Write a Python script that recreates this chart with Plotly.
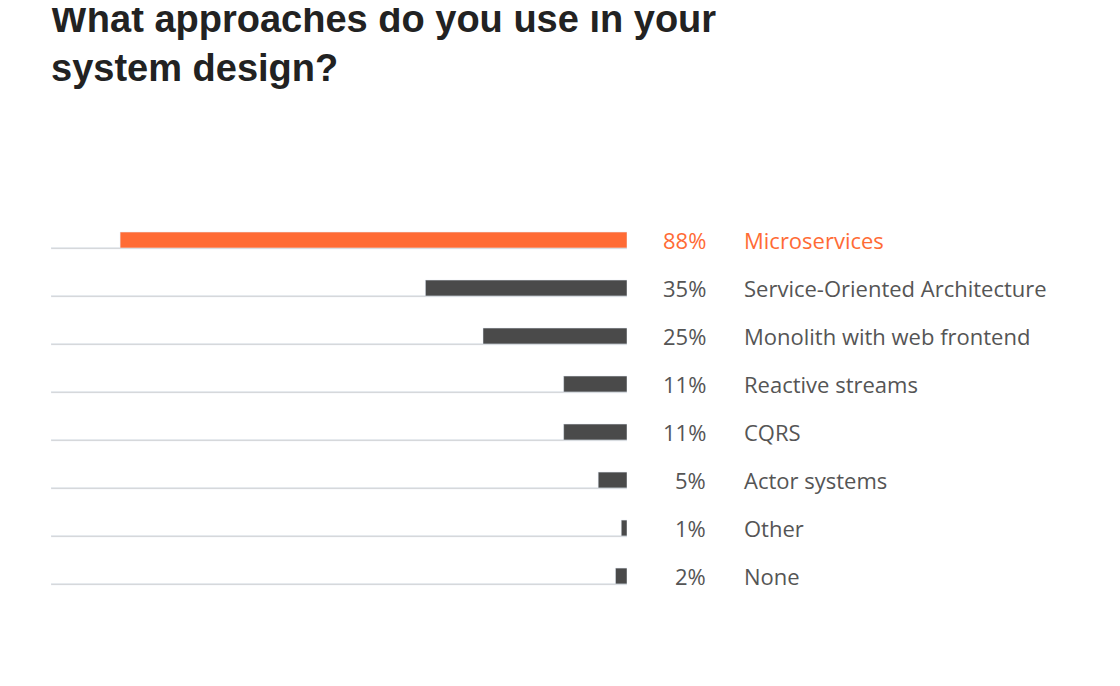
import plotly.graph_objects as go

labels = ['Microservices', 'Service-Oriented Architecture', 'Monolith with web frontend',
          'Reactive streams', 'CQRS', 'Actor systems', 'Other', 'None']
values = [88, 35, 25, 11, 11, 5, 1, 2]
ORANGE = '#ff6b35'
GREY = '#4a4a4a'

rows = list(range(len(labels)))
colors = [ORANGE] + [GREY] * (len(labels) - 1)

fig = go.Figure()
fig.add_trace(go.Bar(x=[100] * len(rows), y=rows, orientation='h', width=0.03, offset=0.155,
                     marker_color='#cfcfcf', hoverinfo='skip'))  # thin track lines
fig.add_trace(go.Bar(x=values, y=rows, orientation='h', width=0.33, offset=-0.165,
                     marker_color=colors))

for r, (lab, v) in enumerate(zip(labels, values)):
    c = ORANGE if r == 0 else '#555555'
    fig.add_annotation(x=1.141, xref='paper', y=r, yref='y', text=f'{v}%', showarrow=False,
                       xanchor='right', font=dict(size=22, color=c, family='Open Sans'))
    fig.add_annotation(x=1.1997, xref='paper', y=r, yref='y', text=lab, showarrow=False,
                       xanchor='left', font=dict(size=22, color=c, family='Open Sans'))

fig.update_layout(
    width=1120, height=686, barmode='overlay', showlegend=False,
    plot_bgcolor='white', paper_bgcolor='white',
    font=dict(family='Liberation Sans, Arial', color='#555555'),
    margin=dict(l=43, r=501, t=208, b=94),
    title=dict(text='<b>What approaches do you use in your<br>system design?</b>',
               x=43 / 1120, xanchor='left', xref='container', y=1 - 24 / 686, yanchor='top',
               font=dict(size=38, color='#222222', family='Liberation Sans, Arial')),
)
fig.update_xaxes(range=[100, 0], visible=False, fixedrange=True)
fig.update_yaxes(range=[7.5, -0.5], visible=False, fixedrange=True)

fig.write_html("out.html")
